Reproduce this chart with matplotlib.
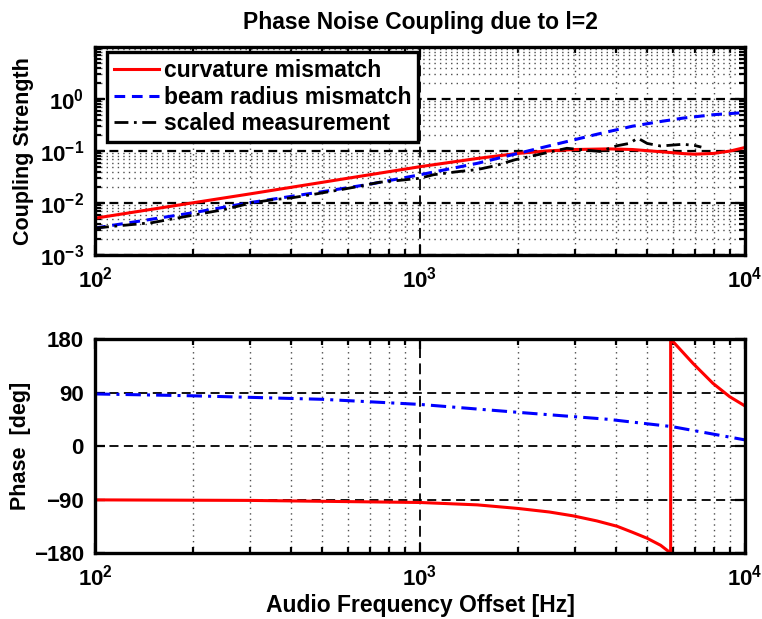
import matplotlib
matplotlib.use('Agg')
import matplotlib.pyplot as plt
from matplotlib.ticker import LogLocator, FixedLocator, NullFormatter

plt.rcParams['font.family'] = ['Liberation Sans', 'DejaVu Sans']
plt.rcParams['font.weight'] = 'bold'
plt.rcParams['mathtext.fontset'] = 'custom'
plt.rcParams['mathtext.rm'] = 'Liberation Sans:bold'
plt.rcParams['mathtext.bf'] = 'Liberation Sans:bold'
plt.rcParams['mathtext.default'] = 'bf'

# --- coupling strength ---
f_curv = [100, 200, 300, 500, 700, 1000, 1500, 2000, 2500, 3000, 3800, 4500,
          5500, 6500, 7000, 8000, 9000, 10000]
c_curv = [0.0051, 0.0101, 0.015, 0.025, 0.035, 0.050, 0.072, 0.090, 0.101, 0.107,
          0.110, 0.107, 0.097, 0.089, 0.087, 0.090, 0.100, 0.117]

f_beam = [100, 200, 300, 500, 700, 1000, 1500, 2000, 2830, 3500, 4500, 5500,
          6450, 8000, 10000]
c_beam = [0.0033, 0.0065, 0.0102, 0.0165, 0.023, 0.035, 0.058, 0.090, 0.152,
          0.21, 0.30, 0.37, 0.43, 0.50, 0.55]

f_meas = [100, 150, 202, 250, 306, 350, 403, 480, 569, 650, 748, 850, 950, 1000,
          1100, 1300, 1500, 1700, 1960, 2400, 2830, 3200, 3580, 4030, 4400, 4680,
          5000, 5500, 6450, 7000, 7340]
c_meas = [0.0033, 0.0042, 0.0059, 0.0075, 0.0102, 0.0115, 0.0126, 0.015, 0.018,
          0.021, 0.025, 0.027, 0.029, 0.030, 0.035, 0.040, 0.044, 0.052, 0.068,
          0.090, 0.113, 0.105, 0.098, 0.126, 0.140, 0.177, 0.140, 0.125, 0.135,
          0.128, 0.119]

# --- phase ---
f_ph_curv = [100, 300, 1000, 1500, 2000, 2500, 2960, 3500, 4040, 4500, 4990, 5500,
             5905, 5905, 6918, 7966, 8970, 10000]
ph_curv = [-90.6, -91.5, -95, -99, -105, -111, -117.5, -126, -135, -145, -155, -167,
           -180, 180, 139, 105.5, 83, 67.4]

f_ph_beam = [100, 200, 500, 1000, 2000, 3780, 5970, 7520, 10000]
ph_beam = [87.6, 84.5, 78.6, 70, 56.7, 45, 32.6, 22.6, 10.3]

fig = plt.figure(figsize=(7.62, 6.19), dpi=100)
ax1 = fig.add_axes([0.1247, 0.588, 0.853, 0.336])
ax2 = fig.add_axes([0.1247, 0.1066, 0.853, 0.3457])


def style_axes(ax):
    for sp in ax.spines.values():
        sp.set_linewidth(2.4)
    ax.tick_params(which='both', direction='in', top=True, right=True,
                   labelsize=16, width=1.6, pad=8)
    ax.tick_params(which='major', length=7)
    ax.tick_params(which='minor', length=4)
    ax.set_xscale('log')
    ax.set_xlim(100, 10000)
    ax.xaxis.set_major_locator(LogLocator(base=10, numticks=10))
    ax.xaxis.set_minor_locator(LogLocator(base=10, subs=range(2, 10), numticks=20))
    ax.xaxis.set_minor_formatter(NullFormatter())
    ax.grid(True, which='major', axis='x', color='k', lw=1.3, ls=(0, (6, 3)))
    ax.grid(True, which='minor', axis='x', color='0.3', lw=1.0, ls=(0, (1, 3)))


# top panel
style_axes(ax1)
ax1.set_yscale('log')
ax1.set_ylim(1e-3, 10)
ax1.yaxis.set_major_locator(FixedLocator([1e-3, 1e-2, 1e-1, 1e0]))
ax1.yaxis.set_minor_locator(LogLocator(base=10, subs=range(2, 10), numticks=20))
ax1.yaxis.set_minor_formatter(NullFormatter())
ax1.grid(True, which='major', axis='y', color='k', lw=1.6, ls=(0, (4, 2.5)))
ax1.grid(True, which='minor', axis='y', color='0.3', lw=1.0, ls=(0, (1, 3)))

ax1.plot(f_curv, c_curv, color='red', lw=2.2, label='curvature mismatch')
ax1.plot(f_beam, c_beam, color='blue', lw=2.2, dashes=(3.5, 2.2),
         label='beam radius mismatch')
ax1.plot(f_meas, c_meas, color='black', lw=2.0, dashes=(5, 2, 1, 2),
         label='scaled measurement')

leg = ax1.legend(loc='upper left', bbox_to_anchor=(0.018, 0.975), fontsize=16.5,
                 fancybox=False, framealpha=1, edgecolor='k', handlelength=2.0,
                 handletextpad=0.2, borderpad=0.3, labelspacing=0.15,
                 borderaxespad=0)
leg.get_frame().set_linewidth(2.4)
ax1.set_ylabel('Coupling Strength', fontsize=15.5, fontweight='bold', labelpad=4)
ax1.set_title('Phase Noise Coupling due to l=2', fontsize=16.5, fontweight='bold', pad=13)

# bottom panel
style_axes(ax2)
ax2.set_ylim(-180, 180)
ax2.set_yticks([-180, -90, 0, 90, 180])
ax2.grid(True, which='major', axis='y', color='k', lw=1.3, ls=(0, (5, 3)))

ax2.plot(f_ph_curv, ph_curv, color='red', lw=2.2)
ax2.plot(f_ph_beam, ph_beam, color='blue', lw=2.2, dashes=(5, 2, 1, 2))

ax2.set_ylabel('Phase  [deg]', fontsize=15.5, fontweight='bold', labelpad=2)
ax2.set_xlabel('Audio Frequency Offset [Hz]', fontsize=16.5, fontweight='bold', labelpad=3)

fig.savefig('out.png', dpi=100)
